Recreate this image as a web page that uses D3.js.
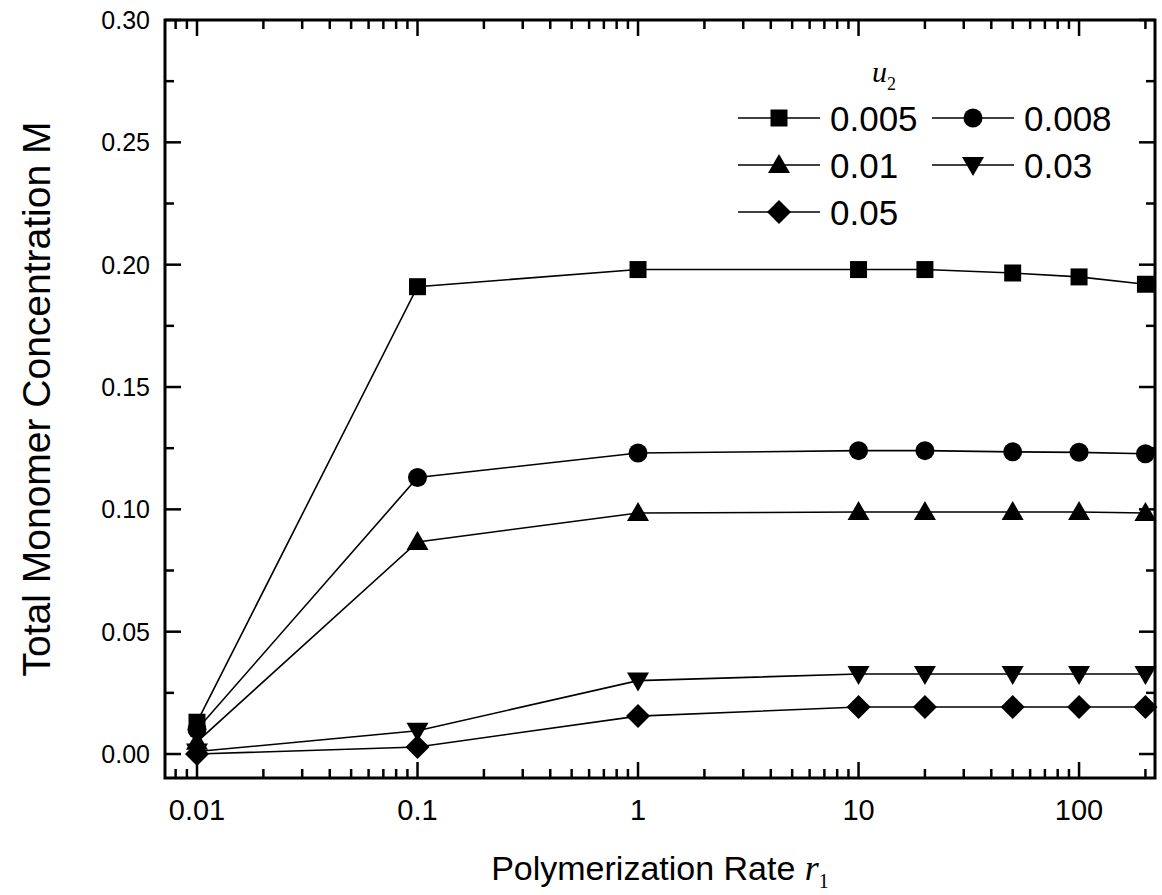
<!DOCTYPE html>
<html><head><meta charset="utf-8">
<script src="https://cdn.jsdelivr.net/npm/d3@7/dist/d3.min.js"></script>
<style>body{margin:0;background:#fff}svg{display:block}</style>
</head><body><svg id="chart" width="1162" height="895"></svg>
<script>
// ---- data ----
const rates = [0.01, 0.1, 1, 10, 20, 50, 100, 200];
const seriesNames = ["0.005", "0.008", "0.01", "0.03", "0.05"];
const u005 = [0.013, 0.191, 0.198, 0.198, 0.198, 0.1966, 0.195, 0.192];
const u008 = [0.010, 0.113, 0.123, 0.124, 0.124, 0.1235, 0.1233, 0.1227];
const u01  = [0.005, 0.0867, 0.0985, 0.0989, 0.0989, 0.0989, 0.0989, 0.0985];
const u03  = [0.001, 0.0095, 0.030, 0.0327, 0.0327, 0.0327, 0.0327, 0.0327];
const u05  = [0.000, 0.0029, 0.0155, 0.0192, 0.0192, 0.0192, 0.0192, 0.0192];
const xTickValues = [0.01, 0.1, 1, 10, 100];
const xTickLabels = ["0.01", "0.1", "1", "10", "100"];
const yTickValues = [0, 0.05, 0.10, 0.15, 0.20, 0.25, 0.30];
const yTickLabels = ["0.00", "0.05", "0.10", "0.15", "0.20", "0.25", "0.30"];

const seriesValues = [u005, u008, u01, u03, u05];
const shapes = ["square", "circle", "triangle", "invtriangle", "diamond"];

// ---- layout ----
const L = 165, R = 1155, T = 20, B = 778;
const svg = d3.select("#chart");
const x = d3.scaleLog().domain([0.00716, 221]).range([L, R]);
const y = d3.scaleLinear().domain([-0.0098, 0.30]).range([B, T]);

function shapePath(s) {
  switch (s) {
    case "square": return "M-8.5,-8.5h17v17h-17Z";
    case "circle": return d3.symbol(d3.symbolCircle, Math.PI * 9.5 * 9.5)();
    case "triangle": return "M0,-11L11,8L-11,8Z";
    case "invtriangle": return "M0,11L11,-8L-11,-8Z";
    case "diamond": return "M0,-12L12,0L0,12L-12,0Z";
  }
}

// ---- ticks (inward, mirrored) ----
const tickG = svg.append("g").attr("stroke", "#000").attr("stroke-width", 2.5);
const xMinor = [];
[0.001, 0.01, 0.1, 1, 10, 100].forEach(d => { for (let k = 2; k <= 9; k++) { const v = d * k; if (v > x.domain()[0] && v < x.domain()[1]) xMinor.push(v); } });
xMinor.forEach(v => {
  tickG.append("line").attr("x1", x(v)).attr("x2", x(v)).attr("y1", B).attr("y2", B - 9);
  tickG.append("line").attr("x1", x(v)).attr("x2", x(v)).attr("y1", T).attr("y2", T + 9);
});
xTickValues.forEach(v => {
  tickG.append("line").attr("x1", x(v)).attr("x2", x(v)).attr("y1", B).attr("y2", B - 16);
  tickG.append("line").attr("x1", x(v)).attr("x2", x(v)).attr("y1", T).attr("y2", T + 16);
});
const yMinor = d3.range(0.025, 0.30, 0.05);
yMinor.forEach(v => {
  tickG.append("line").attr("y1", y(v)).attr("y2", y(v)).attr("x1", L).attr("x2", L + 9);
  tickG.append("line").attr("y1", y(v)).attr("y2", y(v)).attr("x1", R).attr("x2", R - 9);
});
yTickValues.forEach(v => {
  tickG.append("line").attr("y1", y(v)).attr("y2", y(v)).attr("x1", L).attr("x2", L + 16);
  tickG.append("line").attr("y1", y(v)).attr("y2", y(v)).attr("x1", R).attr("x2", R - 16);
});

// ---- frame ----
svg.append("rect").attr("x", L).attr("y", T).attr("width", R - L).attr("height", B - T)
  .attr("fill", "none").attr("stroke", "#000").attr("stroke-width", 3);

// ---- tick labels ----
svg.append("g").selectAll("text").data(xTickValues).join("text")
  .attr("x", d => x(d)).attr("y", 820).attr("text-anchor", "middle")
  .attr("font-family", "'Liberation Sans Narrow','Liberation Sans',Arial,sans-serif")
  .attr("font-size", 29).text((d, i) => xTickLabels[i]);
svg.append("g").selectAll("text").data(yTickValues).join("text")
  .attr("x", 150).attr("y", d => y(d)).attr("dy", "0.36em").attr("text-anchor", "end")
  .attr("font-family", "'Liberation Sans',Arial,sans-serif")
  .attr("font-size", 25).text((d, i) => yTickLabels[i]);

// ---- axis titles ----
const xt = svg.append("text").attr("x", 660).attr("y", 880).attr("text-anchor", "middle")
  .attr("font-family", "'Liberation Sans',Arial,sans-serif").attr("font-size", 34);
xt.append("tspan").text("Polymerization Rate ");
xt.append("tspan").attr("font-family", "'Liberation Serif','Times New Roman',serif").attr("font-style", "italic").attr("font-size", 36).text("r");
xt.append("tspan").attr("font-family", "'Liberation Serif','Times New Roman',serif").attr("font-size", 20).attr("dy", 8).text("1");

svg.append("text").attr("transform", `translate(50,${(T + B) / 2}) rotate(-90)`).attr("text-anchor", "middle")
  .attr("font-family", "'Liberation Sans Narrow','Liberation Sans',Arial,sans-serif").attr("font-size", 39)
  .text("Total Monomer Concentration M");

// ---- lines & markers ----
const line = d3.line().x(d => x(d[0])).y(d => y(d[1]));
seriesValues.forEach((vals, si) => {
  const pts = rates.map((r, i) => [r, vals[i]]);
  svg.append("path").attr("d", line(pts)).attr("fill", "none").attr("stroke", "#000").attr("stroke-width", 1.6);
  svg.append("g").selectAll("path").data(pts).join("path")
    .attr("transform", d => `translate(${x(d[0])},${y(d[1])})`)
    .attr("d", shapePath(shapes[si])).attr("fill", "#000");
});

// ---- legend ----
const lg = svg.append("g");
const lt = lg.append("text").attr("x", 872).attr("y", 82)
  .attr("font-family", "'Liberation Serif','Times New Roman',serif").attr("font-size", 30);
lt.append("tspan").attr("font-style", "italic").text("u");
lt.append("tspan").attr("font-size", 18).attr("dy", 8).text("2");
const colX = [738, 932];
const rowY = [118, 165, 212];
seriesNames.forEach((name, i) => {
  const cx = colX[i % 2], cy = rowY[Math.floor(i / 2)];
  lg.append("line").attr("x1", cx).attr("x2", cx + 82).attr("y1", cy).attr("y2", cy).attr("stroke", "#000").attr("stroke-width", 1.6);
  lg.append("path").attr("transform", `translate(${cx + 41},${cy})`).attr("d", shapePath(shapes[i])).attr("fill", "#000");
  lg.append("text").attr("x", cx + 92).attr("y", cy).attr("dy", "0.36em")
    .attr("font-family", "'Liberation Sans',Arial,sans-serif").attr("font-size", 35).text(name);
});
</script></body></html>
